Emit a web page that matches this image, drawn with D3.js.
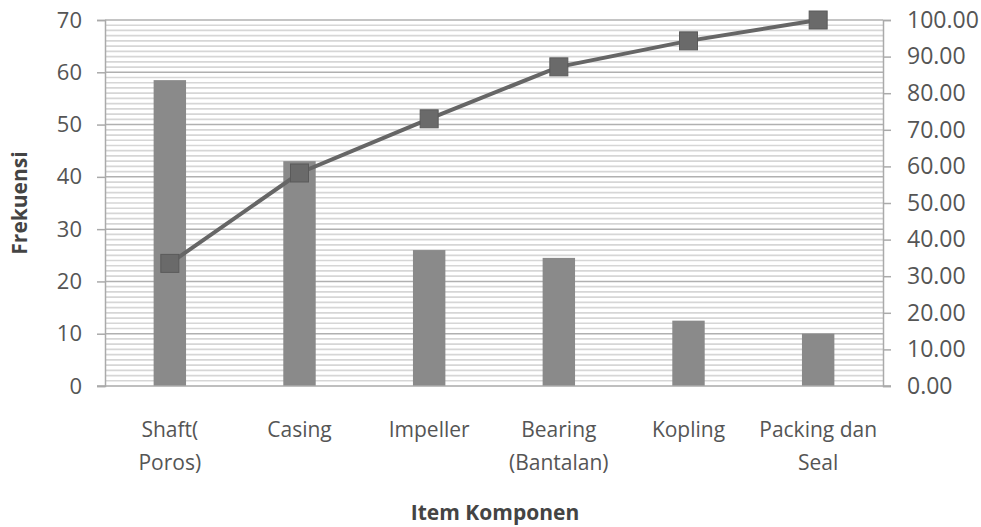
<!DOCTYPE html>
<html>
<head>
<meta charset="utf-8">
<script src="https://cdn.jsdelivr.net/npm/d3@7"></script>
<style>
  body { margin: 0; background: #fff; }
  svg { display: block; font-family: 'Open Sans', Lato, sans-serif; }
</style>
</head>
<body>
<svg id="chart"></svg>
<script>
// Data
const categories = ['Shaft(\nPoros)', 'Casing', 'Impeller', 'Bearing\n(Bantalan)', 'Kopling', 'Packing dan\nSeal'];
const frekuensi = [58.5, 43, 26, 24.5, 12.5, 10];
const kumulatif = [33.5, 58.2, 73.0, 87.2, 94.3, 100];
const leftTicks = [0, 10, 20, 30, 40, 50, 60, 70];
const rightTicks = [0, 10, 20, 30, 40, 50, 60, 70, 80, 90, 100];

const W = 981, H = 527;
const margin = { top: 20, right: 98, bottom: 141, left: 105 };
const width = W - margin.left - margin.right;
const height = H - margin.top - margin.bottom;

const svg = d3.select('#chart').attr('width', W).attr('height', H);
const g = svg.append('g').attr('transform', `translate(${margin.left},${margin.top})`);

const x = d3.scaleBand().domain(categories).range([0, width]).paddingInner(0.75).paddingOuter(0.375);
const y = d3.scaleLinear().domain([0, 70]).range([height, 0]);
const y2 = d3.scaleLinear().domain([0, 100]).range([height, 0]);

// minor gridlines every unit
g.append('g')
  .selectAll('line')
  .data(d3.range(1, 70).filter((d) => d % 10 !== 0))
  .join('line')
  .attr('x1', 0).attr('x2', width)
  .attr('y1', (d) => y(d)).attr('y2', (d) => y(d))
  .attr('stroke', '#d6d6d6').attr('stroke-width', 1.7);

// major gridlines
g.append('g')
  .selectAll('line')
  .data(leftTicks.slice(1))
  .join('line')
  .attr('x1', 0).attr('x2', width)
  .attr('y1', (d) => y(d)).attr('y2', (d) => y(d))
  .attr('stroke', '#b0b0b0').attr('stroke-width', 1.5);

// bars
g.append('g')
  .selectAll('rect')
  .data(frekuensi)
  .join('rect')
  .attr('x', (d, i) => x(categories[i]))
  .attr('y', (d) => y(d))
  .attr('width', x.bandwidth())
  .attr('height', (d) => y(0) - y(d))
  .attr('fill', '#8a8a8a');

// left axis
const yAxisGroup = g.append('g')
  .call(d3.axisLeft(y).tickValues(leftTicks).tickSize(8).tickPadding(15));
// right axis
const y2AxisGroup = g.append('g')
  .attr('transform', `translate(${width},0)`)
  .call(d3.axisRight(y2).tickValues(rightTicks).tickSize(8).tickPadding(16).tickFormat(d3.format('.2f')));

[yAxisGroup, y2AxisGroup].forEach((ag) => {
  ag.attr('font-family', null);
  ag.select('.domain').attr('stroke', '#aaa').attr('stroke-width', 1.5);
  ag.selectAll('.tick line').attr('stroke', '#aaa').attr('stroke-width', 1.5);
  ag.selectAll('.tick text').attr('fill', '#555').style('font-size', '22px');
});
y2AxisGroup.selectAll('.tick text').style('font-size', '23px');

// bottom baseline
g.append('line')
  .attr('x1', -8).attr('x2', width + 8)
  .attr('y1', y(0)).attr('y2', y(0))
  .attr('stroke', '#aaa').attr('stroke-width', 1.5);

// category labels
const xLabels = g.append('g')
  .selectAll('text')
  .data(categories)
  .join('text')
  .attr('x', (d) => x(d) + x.bandwidth() / 2)
  .attr('y', height + 51)
  .attr('text-anchor', 'middle')
  .attr('fill', '#555')
  .style('font-size', '21px');
xLabels.selectAll('tspan')
  .data((d) => d.split('\n'))
  .join('tspan')
  .attr('x', function () { return this.parentNode.getAttribute('x'); })
  .attr('dy', (d, i) => (i === 0 ? 0 : 33))
  .text((d) => d);

// cumulative line
const line = d3.line()
  .x((d, i) => x(categories[i]) + x.bandwidth() / 2)
  .y((d) => y2(d));
g.append('path')
  .datum(kumulatif)
  .attr('d', line)
  .attr('fill', 'none')
  .attr('stroke', '#666')
  .attr('stroke-width', 4);

const ms = 18;
g.append('g')
  .selectAll('rect')
  .data(kumulatif)
  .join('rect')
  .attr('x', (d, i) => x(categories[i]) + x.bandwidth() / 2 - ms / 2)
  .attr('y', (d) => y2(d) - ms / 2)
  .attr('width', ms).attr('height', ms)
  .attr('fill', '#6a6a6a')
  .attr('stroke', '#5a5a5a')
  .attr('stroke-width', 1);

// axis titles
svg.append('text')
  .attr('transform', `translate(27,${margin.top + height / 2}) rotate(-90)`)
  .attr('text-anchor', 'middle')
  .attr('fill', '#444')
  .style('font-size', '21px')
  .style('font-weight', 'bold')
  .text('Frekuensi');

svg.append('text')
  .attr('x', 495)
  .attr('y', 520)
  .attr('text-anchor', 'middle')
  .attr('fill', '#444')
  .style('font-size', '21px')
  .style('font-weight', 'bold')
  .text('Item Komponen');
</script>
</body>
</html>
